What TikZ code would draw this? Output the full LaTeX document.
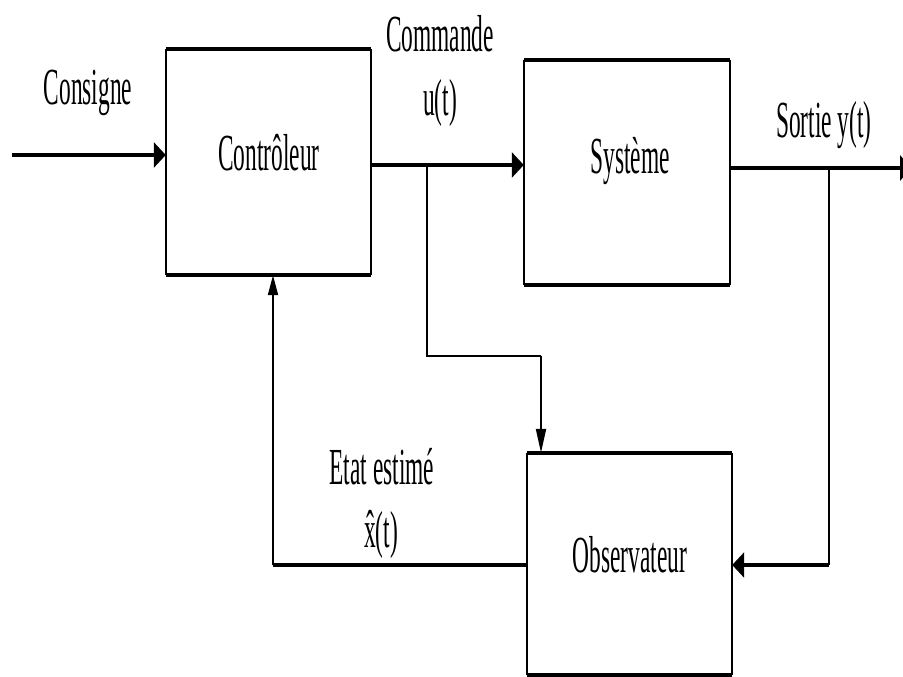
\documentclass[tikz,border=0pt]{standalone}
\usepackage{fontspec}
\setmainfont{Liberation Serif}
\newfontfamily\narrowserif[FakeStretch=0.45]{Liberation Serif}
\usetikzlibrary{arrows.meta}

\begin{document}
\begin{tikzpicture}[x=1pt,y=-1pt,
  lbl/.style={font=\narrowserif\fontsize{52}{60}\selectfont, anchor=base, inner sep=0pt},
  blockbox/.style={draw=none, inner sep=0pt},
  sideedge/.style={line width=2.5pt},
  capedge/.style={line width=4.5pt, line cap=square},
  thickwire/.style={line width=4.5pt},
  thinwire/.style={line width=2pt},
  bigtip/.style={-{Triangle[length=12pt,width=25pt]}},
  slimtip/.style={-{Triangle[length=24pt,width=10pt]}},
]
\useasboundingbox (0,0) rectangle (903,677);
\clip (0,0) rectangle (903,677);

% blocks
\node[blockbox, minimum width=205pt, minimum height=226pt] (ctrl) at (268.5,162) {};
\node[blockbox, minimum width=206pt, minimum height=225pt] (sys)  at (627,172.5) {};
\node[blockbox, minimum width=205pt, minimum height=222pt] (obs)  at (629.5,564) {};

\foreach \b in {ctrl,sys,obs}{
  \draw[sideedge] (\b.north west) -- (\b.south west) (\b.north east) -- (\b.south east);
  \draw[capedge] (\b.north west) -- (\b.north east) (\b.south west) -- (\b.south east);
}

% block titles
\node[lbl] (ctrltxt) at (269,170) {Contrôleur};
\node[lbl] (systxt)  at (630,173) {Système};
\node[lbl] (obstxt)  at (630,572) {Observateur};

% signal labels
\node[lbl] (consigne) at (88,105) {Consigne};
\node[lbl] (cmd)      at (440,52)  {Commande};
\node[lbl] (cmdu)     at (440,115) {u(t)};
\node[lbl] (sortie)   at (824,137) {Sortie y(t)};
\node[lbl] (etat)     at (382,484) {Etat estimé};
\node[lbl] (etatx)    at (381,547) {\^x(t)};

% junctions and bends
\coordinate (in)   at (12,155);
\coordinate (brU)  at (427,165);
\coordinate (kU)   at (427,356);
\coordinate (kU2)  at (541,356);
\coordinate (brY)  at (829,168);
\coordinate (kY)   at (829,565);
\coordinate (out)  at (912,168);
\coordinate (kX)   at (273,565);

% set point into controller
\draw[thickwire, bigtip] (in) -- (in -| ctrl.west);
% command into plant
\draw[thickwire, bigtip] (ctrl.east |- brU) -- (sys.west |- brU);
% command branch to observer
\draw[thinwire] (brU) -- (kU) -- (kU2);
\draw[thinwire, slimtip] (kU2) -- (kU2 |- obs.north);
% plant output
\draw[thickwire, bigtip] (sys.east |- brY) -- (out);
% output branch to observer
\draw[thinwire] (brY) -- (kY);
\draw[thickwire, bigtip] (kY) -- (obs.east |- kY);
% estimated state back to controller
\draw[thickwire] (obs.west |- kX) -- (kX);
\draw[thinwire, -{Triangle[length=20pt,width=10pt]}] (kX) -- (kX |- ctrl.south);
\end{tikzpicture}
\end{document}
